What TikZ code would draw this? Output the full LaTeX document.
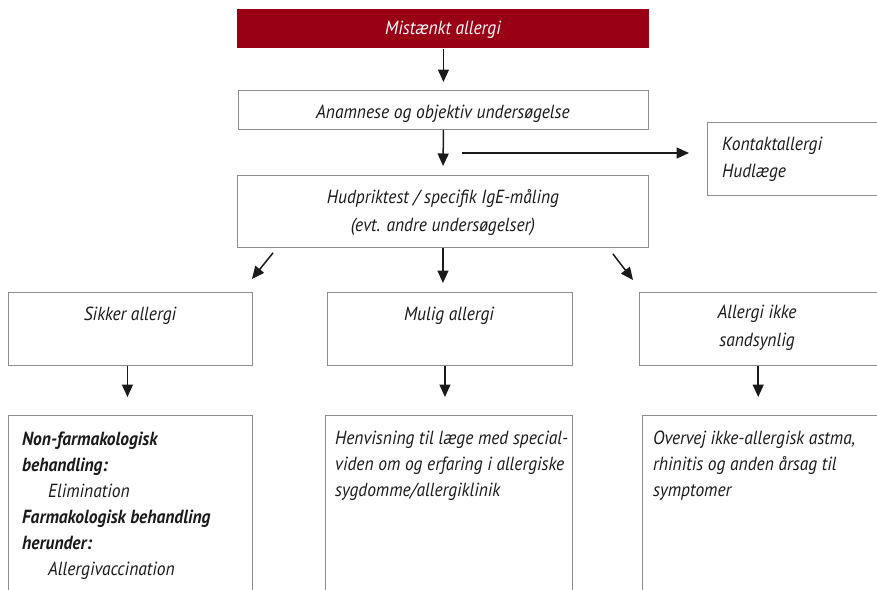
\documentclass[tikz,border=0pt]{standalone}
\usepackage{fontspec}
\setmainfont[FakeStretch=0.92]{PT Sans}
\usetikzlibrary{arrows.meta,calc}

\definecolor{boxred}{HTML}{9A0015}
\definecolor{frame}{HTML}{8C8C8C}
\definecolor{ink}{HTML}{1A1A1A}

\begin{document}
\begin{tikzpicture}[x=1pt,y=-1pt,
  box/.style={draw=frame,line width=0.9pt,fill=white,inner sep=0pt,anchor=north west},
  txt/.style={font=\fontsize{19}{26}\selectfont\itshape,inner sep=0pt,text=ink},
  arr/.style={-{Triangle[length=12.5pt,width=11pt]},line width=1.5pt,ink}]

\clip (0,0) rectangle (877,589);
\fill[white] (0,0) rectangle (877,589);

% boxes
\node[box,draw=none,fill=boxred,minimum width=412pt,minimum height=39pt] (start) at (237,9) {};
\node[box,minimum width=410pt,minimum height=39pt] (anam) at (238,90) {};
\node[box,minimum width=411pt,minimum height=72pt] (hud) at (237,175) {};
\node[box,minimum width=169.5pt,minimum height=73pt] (kontakt) at (707,122) {};
\node[box,minimum width=244pt,minimum height=73pt] (sikker) at (8,292) {};
\node[box,minimum width=245pt,minimum height=73pt] (mulig) at (327,292) {};
\node[box,minimum width=237.5pt,minimum height=73pt] (ikke) at (639,292) {};
\node[box,minimum width=244pt,minimum height=200pt] (beh) at (8,415) {};
\node[box,minimum width=247pt,minimum height=200pt] (henv) at (325,415) {};
\node[box,minimum width=234.5pt,minimum height=200pt] (overvej) at (642,415) {};

% texts (multi-line nodes are placed by the baseline of their last line)
\node[txt,anchor=base,text=white] (tstart) at (443,34) {Mistænkt allergi};
\node[txt,anchor=base] (tanam) at (443,118) {Anamnese og objektiv undersøgelse};
\node[txt,anchor=base,align=center] (thud) at (443,231) {Hudpriktest / specifik IgE-måling\\[2pt](evt. andre undersøgelser)};
\node[txt,anchor=base west,align=left] (tkontakt) at (722,177) {Kontaktallergi\\[1pt]Hudlæge};
\node[txt,anchor=base] (tsikker) at (130,320) {Sikker allergi};
\node[txt,anchor=base] (tmulig) at (449,320) {Mulig allergi};
\node[txt,anchor=base,align=center] (tikke) at (757,346) {Allergi ikke\\[2pt]sandsynlig};
\node[txt,anchor=base west,align=left] (tbeh) at (22,575)
  {\bfseries Non-farmakologisk\\\bfseries behandling:\\\hspace*{26pt}Elimination\\
   \bfseries Farmakologisk behandling\\\bfseries herunder:\\\hspace*{26pt}Allergivaccination};
\node[txt,anchor=base west,align=left] (thenv) at (335,496)
  {Henvisning til læge med special-\\viden om og erfaring i allergiske\\sygdomme/allergiklinik};
\node[txt,anchor=base west,align=left] (tovervej) at (653,496)
  {Overvej ikke-allergisk astma,\\rhinitis og anden årsag til\\symptomer};

% connectors
\draw[arr,shorten >=8pt] (start.south) -- (anam.north);
\draw[arr,shorten >=9pt] (anam.south) -- (hud.north);
\coordinate (kstart) at (462,153);
\draw[arr,shorten >=18pt] (kstart) -- (kstart -| kontakt.west);
\draw[arr] ($(hud.south west)+(36,5)$) -- ($(sikker.north east)+(-1,-13)$);
\draw[arr,shorten >=9pt] (hud.south) -- (hud.south |- mulig.north);
\draw[arr] ($(hud.south east)+(-36,6)$) -- ($(ikke.north west)+(-6,-12)$);
\draw[arr,shorten >=18pt] ($(sikker.south)+(-3,0)$) -- ($(beh.north)+(-3,0)$);
\draw[arr,shorten >=18pt] ($(mulig.south)+(-5,0)$) -- ($(mulig.south |- henv.north)+(-5,0)$);
\draw[arr,shorten >=18pt] (ikke.south) -- (ikke.south |- overvej.north);
\end{tikzpicture}
\end{document}
